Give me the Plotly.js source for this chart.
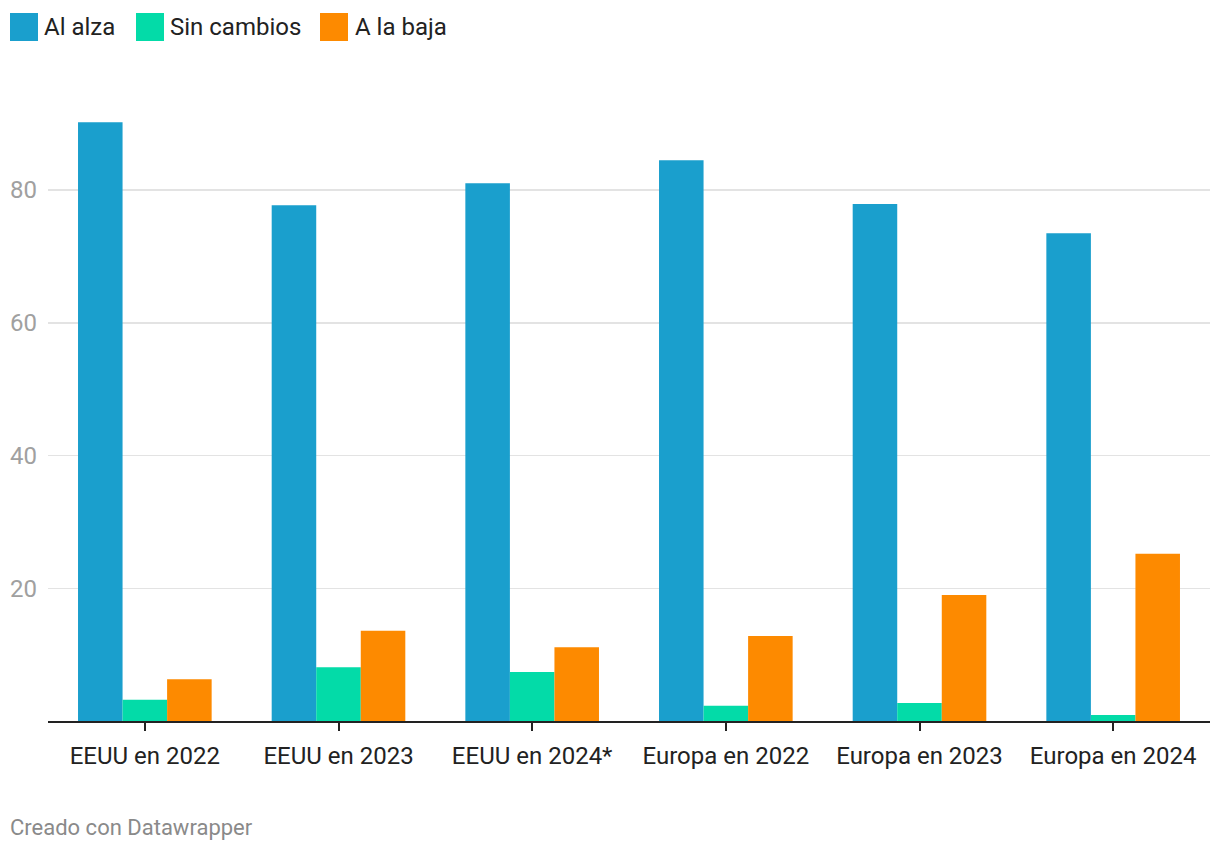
<!DOCTYPE html>
<html>
<head>
<meta charset="utf-8">
<script src="https://cdn.plot.ly/plotly-3.0.1.min.js"></script>
<style>
html,body{margin:0;padding:0;background:#fff;}
#chart{width:1220px;height:854px;}
</style>
</head>
<body>
<div id="chart"></div>
<script>
const categories = ["EEUU en 2022","EEUU en 2023","EEUU en 2024*","Europa en 2022","Europa en 2023","Europa en 2024"];
const alAlza = [90.2, 77.7, 81.0, 84.5, 77.9, 73.5];
const sinCambios = [3.2, 8.1, 7.4, 2.3, 2.7, 0.9];
const aLaBaja = [6.3, 13.6, 11.1, 12.8, 19.0, 25.2];
const seriesNames = ["Al alza","Sin cambios","A la baja"];
const colors = ["#1a9fcd","#03dba8","#fd8a00"];
const yTicks = [20, 40, 60, 80];

const L = 48, R = 10, T = 100, B = 133, W = 1220, H = 854;
const pw = W - L - R, ph = H - T - B;
const px = x => (x - L) / pw;
const py = y => (H - B - y) / ph;

const traces = [alAlza, sinCambios, aLaBaja].map((vals, i) => ({
  type: 'bar', x: categories, y: vals, name: seriesNames[i],
  marker: {color: colors[i]}, hoverinfo: 'skip'
}));

const legendPos = [[10,42],[136,168],[320,353]];
const shapes = [], annotations = [];
seriesNames.forEach((n, i) => {
  const [sx, tx] = legendPos[i];
  shapes.push({type:'rect', xref:'paper', yref:'paper',
    x0: px(sx), x1: px(sx+28), y0: py(41), y1: py(13),
    fillcolor: colors[i], line:{width:0}});
  annotations.push({xref:'paper', yref:'paper', x: px(tx), y: py(27),
    xanchor:'left', yanchor:'middle', showarrow:false, text:n,
    font:{family:'Roboto', size:24, color:'#222'}});
});
annotations.push({xref:'paper', yref:'paper', x: px(8), y: py(828),
  xanchor:'left', yanchor:'middle', showarrow:false, text:'Creado con Datawrapper',
  font:{family:'Roboto', size:22, color:'#8a8a8a'}});

const layout = {
  width: W, height: H,
  margin: {l: L, r: R, t: T, b: B},
  paper_bgcolor: '#fff', plot_bgcolor: '#fff',
  showlegend: false,
  barmode: 'group', bargap: 0.31, bargroupgap: 0,
  font: {family: 'Roboto', size: 20, color: '#222'},
  xaxis: {
    type: 'category', showgrid: false, zeroline: false,
    showline: true, linecolor: '#222', linewidth: 2,
    ticks: 'outside', ticklen: 8, tickwidth: 2, tickcolor: '#222',
    ticklabelstandoff: 4,
    tickfont: {family: 'Roboto', size: 24, color: '#222'},
    fixedrange: true
  },
  yaxis: {
    range: [0, 93.56], tickvals: yTicks, ticktext: yTicks.map(String),
    showgrid: true, gridcolor: '#e3e3e3', gridwidth: 1.5,
    zeroline: false, showline: false, ticks: '',
    ticklabelstandoff: 10,
    tickfont: {family: 'Roboto', size: 24, color: '#a0a0a0'},
    fixedrange: true
  },
  shapes, annotations
};

Plotly.newPlot('chart', traces, layout, {displayModeBar: false, staticPlot: true});
</script>
</body>
</html>
